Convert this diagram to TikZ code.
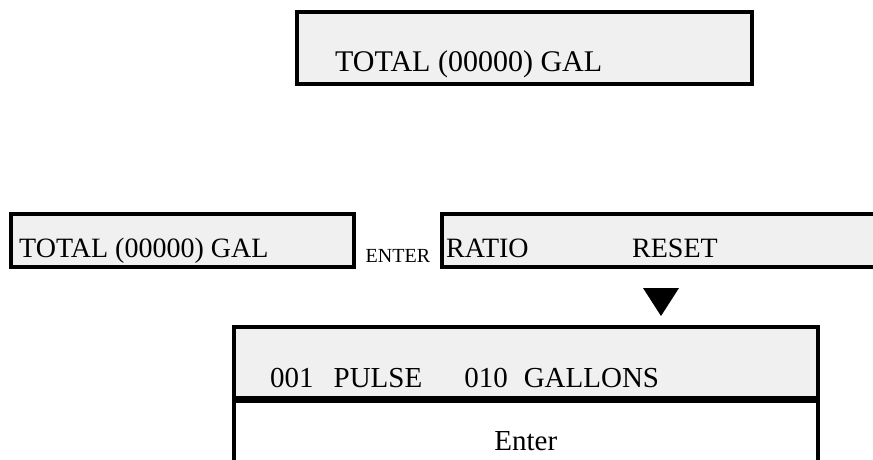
\documentclass[tikz,border=0pt]{standalone}
\usepackage{fontspec}
\setmainfont{Liberation Serif}
\usetikzlibrary{positioning}
\definecolor{lcdGray}{HTML}{F0F0F0}
\tikzset{
  % Display panel (gray, heavy border)
  panel/.style={rectangle,draw=black,fill=lcdGray,
    line width=3.5pt,inner sep=0pt,anchor=north west},
  % Plain panel (white)
  wpanel/.style={panel,fill=white},
  % Display text
  lcd/.style={font=\fontsize{29}{33}\selectfont,
    inner sep=0pt,anchor=base west},
  % Small key label
  keylbl/.style={font=\fontsize{20}{23}\selectfont,
    inner sep=0pt,anchor=base west},
}

\begin{document}
\begin{tikzpicture}[x=1pt,y=-1pt]
  \useasboundingbox (0,0) rectangle (873,459);
  \clip (0,0) rectangle (873,459);

  % top display
  \node[panel,minimum width=455pt,minimum height=72pt] (top) at (295,10) {};
  \node[lcd,font=\fontsize{30}{34}\selectfont] (toptxt)
    at ([shift={(40,-14)}]top.south west) {TOTAL (00000) GAL};

  % middle row
  \node[panel,minimum width=343pt,minimum height=53pt] (total) at (9,212) {};
  \node[lcd,font=\fontsize{28}{32}\selectfont] (totaltxt)
    at ([shift={(10,-11)}]total.south west) {TOTAL (00000) GAL};
  \node[keylbl] (key) at ([shift={(10,-6)}]total.south east) {ENTER};
  \node[panel,minimum width=450pt,minimum height=53pt] (ratio) at (440,212) {};
  \node[lcd,font=\fontsize{28}{32}\selectfont] (ratiotxt)
    at ([shift={(6,-11)}]ratio.south west) {RATIO};
  \node[lcd,font=\fontsize{28}{32}\selectfont] (resettxt)
    at ([shift={(192,-11)}]ratio.south west) {RESET};

  % marker
  \coordinate (mark) at (661,316);
  \fill (mark) ++(-18,-28) -- ++(36,0) -- (mark) -- cycle;

  % bottom display
  \node[panel,minimum width=584pt,minimum height=71pt] (pulse) at (232,325) {};
  \node[wpanel,minimum width=584pt,minimum height=90pt] (enter) at (pulse.south west) {};
  \node[lcd] (pulsetxt) at ([shift={(38,-12)}]pulse.south west)
    {001\hspace{20pt}PULSE\hspace{42pt}010\hspace{16pt}GALLONS};
  \node[lcd,anchor=base] (entertxt) at ([yshift=-51]enter.north) {Enter};
\end{tikzpicture}
\end{document}
